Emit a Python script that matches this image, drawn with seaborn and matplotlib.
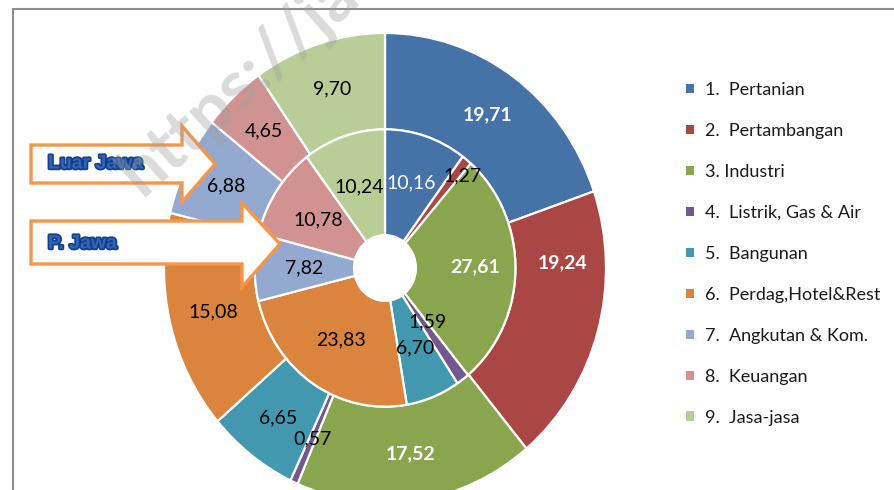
#!/usr/bin/env python
"""
  Struktur PDRB: Luar Jawa (outer ring) vs P. Jawa (inner ring)
"""

import numpy as np
import matplotlib
matplotlib.use('Agg')
import matplotlib.pyplot as plt
import matplotlib.patheffects as pe
from matplotlib.patches import Polygon, Patch
from matplotlib.lines import Line2D
import seaborn as sns

W, H = 894, 490

sectors = ["1.  Pertanian", "2.  Pertambangan", "3. Industri", "4.  Listrik, Gas & Air",
           "5.  Bangunan", "6.  Perdag,Hotel&Rest", "7.  Angkutan & Kom.",
           "8.  Keuangan", "9.  Jasa-jasa"]
luar_jawa = [19.71, 19.24, 17.52, 0.57, 6.65, 15.08, 6.88, 4.65, 9.70]
p_jawa = [10.16, 1.27, 27.61, 1.59, 6.70, 23.83, 7.82, 10.78, 10.24]

colors = ["#4572A7", "#AA4643", "#89A54E", "#71588F", "#4198AF",
          "#DB843D", "#93A9CF", "#D19392", "#B9CD96"]

# label styling (colour, bold) and small nudges in pixels, like the original
outer_style = [("white", True), ("white", True), ("white", True)] + [("black", False)] * 6
inner_style = [("white", False), ("black", False), ("white", True)] + [("black", False)] * 6
outer_nudge = {1: (7, 56)}
inner_nudge = {0: (1, 4), 1: (27, 25), 2: (9, 3), 3: (-5, 15)}


def px(x, y):
  return (x / W, 1 - y / H)


def add_labels(ax, values, r, styles, nudges):
  cum = np.cumsum([0] + values)
  total = cum[-1]
  for i, v in enumerate(values):
    mid = (cum[i] + cum[i + 1]) / 2 / total
    ang = np.deg2rad(90 - 360 * mid)
    col, bold = styles[i]
    ax.annotate(f"{v:.2f}".replace(".", ","), xy=(r * np.cos(ang), r * np.sin(ang)),
                xytext=nudges.get(i, (0, 0)), textcoords="offset pixels",
                ha="center", va="center", fontsize=14, color=col,
                fontweight="bold" if bold else "normal", zorder=5)


def main():
  sns.set_theme(style="white")
  plt.rcParams["font.family"] = ["Lato", "DejaVu Sans"]

  fig = plt.figure(figsize=(W / 100, H / 100), dpi=100)
  ax = fig.add_axes([164 / W, -13 / H, 442 / W, 470 / H])
  pal = sns.color_palette(colors)

  wedge_kw = dict(edgecolor="white", linewidth=1.6)
  ax.pie(luar_jawa, radius=1.0, colors=pal, startangle=90, counterclock=False,
         wedgeprops=dict(width=0.41, **wedge_kw))
  ax.pie(p_jawa, radius=0.59, colors=pal, startangle=90, counterclock=False,
         wedgeprops=dict(width=0.45, **wedge_kw))
  ax.set_aspect("auto")
  ax.set_xlim(-1, 1)
  ax.set_ylim(-1, 1)
  ax.axis("off")
  for w in ax.patches:
    w.set_clip_on(False)

  add_labels(ax, luar_jawa, 0.80, outer_style, outer_nudge)
  add_labels(ax, p_jawa, 0.365, inner_style, inner_nudge)

  # legend
  handles = [Patch(facecolor=c, edgecolor="none") for c in pal]
  fig.legend(handles, sectors, loc="upper left", bbox_to_anchor=px(670, 66),
             frameon=False, fontsize=13, handlelength=0.42, handleheight=0.42,
             handletextpad=0.6, labelspacing=1.38, labelcolor="#1A1A1A")

  # frame
  fig.add_artist(Line2D([13 / W, 1], [1 - 9 / H] * 2, color="#8C8C8C", lw=1.5))
  fig.add_artist(Line2D([13 / W] * 2, [1 - 9 / H, 0], color="#8C8C8C", lw=1.5))

  # block arrows
  arrows = {
    "Luar Jawa": ([(31, 145), (182, 145), (182, 126), (215, 164), (182, 202), (182, 183), (31, 183)], 164),
    "P. Jawa": ([(31, 221), (242, 221), (242, 203), (280, 244), (242, 287), (242, 264), (31, 264)], 244),
  }
  for name, (pts, ty) in arrows.items():
    poly = Polygon([px(x, y) for x, y in pts], closed=True, transform=fig.transFigure,
                   facecolor="white", edgecolor="#F79646", lw=2.4, zorder=7)
    fig.add_artist(poly)
    t = fig.text(*px(48, ty), name, ha="left", va="center", fontsize=14,
                 fontweight="bold", color="#2E66B8", zorder=8,
                 family=["Liberation Sans", "DejaVu Sans"])
    t.set_path_effects([pe.withStroke(linewidth=2.5, foreground="#14408A")])

  # watermark, on top of everything
  fig.text(*px(142, 197), "https://ja", rotation=42, rotation_mode="anchor",
           ha="left", va="baseline", fontsize=50, fontweight="bold",
           color="#A0A0A0", alpha=0.38, zorder=9)

  fig.savefig("out.png", dpi=100)


if __name__ == "__main__":
  main()
